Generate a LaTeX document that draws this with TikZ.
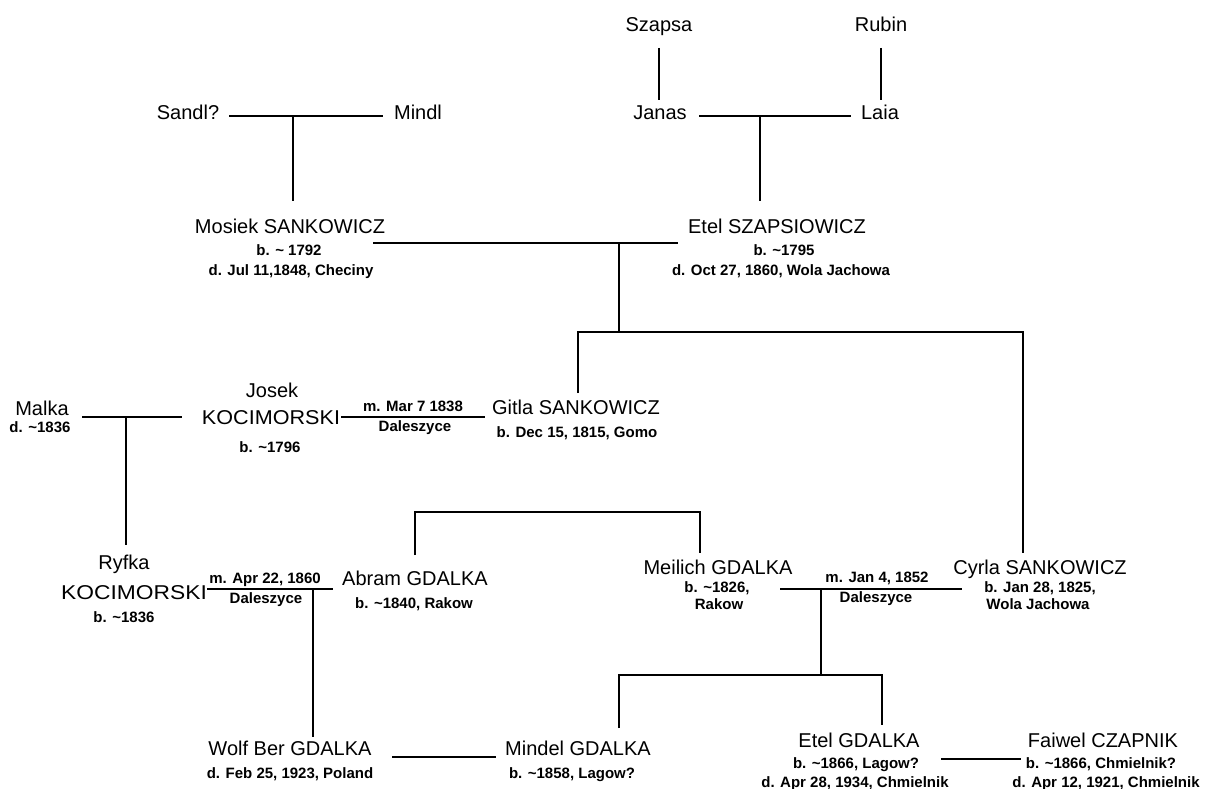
\documentclass[tikz,border=0pt]{standalone}
\usepackage{fontspec}
\setmainfont{Liberation Sans}
\begin{document}
\begin{tikzpicture}[x=1pt,y=-1pt,
  pname/.style={anchor=base,inner sep=0pt,font=\fontsize{20}{24}\selectfont},
  pinfo/.style={anchor=base,inner sep=0pt,font=\fontsize{15}{18}\selectfont\bfseries},
  link/.style={line width=1.8pt,line cap=butt}]
\fill[white] (0,0) rectangle (1215,789);
\useasboundingbox (0,0) rectangle (1215,789);
% ---------- names ----------
\node[pname] (szapsa) at (659,32) {Szapsa};
\node[pname] (rubin) at (881,32) {Rubin};
\node[pname] (sandl) at (188,120) {Sandl?};
\node[pname] (mindl) at (418,120) {Mindl};
\node[pname] (janas) at (660,120) {Janas};
\node[pname] (laia) at (880,120) {Laia};
\node[pname] (mosiek) at (290,233) {Mosiek SANKOWICZ};
\node[pname] (etelS) at (777,233) {Etel SZAPSIOWICZ};
\node[pname] (malka) at (42,415) {Malka};
\node[pname] (josek) at (272,397) {Josek};
\node[pname] (josekK) at (271,424) {\scalebox{1.08}[1]{KOCIMORSKI}};
\node[pname] (gitla) at (576,414) {Gitla SANKOWICZ};
\node[pname] (ryfka) at (124,569) {Ryfka};
\node[pname] (ryfkaK) at (134,599) {\scalebox{1.14}[1]{KOCIMORSKI}};
\node[pname] (abram) at (415,585) {Abram GDALKA};
\node[pname] (meilich) at (718,574) {Meilich GDALKA};
\node[pname] (cyrla) at (1040,574) {Cyrla SANKOWICZ};
\node[pname] (wolf) at (290,755) {Wolf Ber GDALKA};
\node[pname] (mindel) at (578,755) {Mindel GDALKA};
\node[pname] (etelG) at (859,747) {Etel GDALKA};
\node[pname] (faiwel) at (1103,747) {Faiwel CZAPNIK};
% ---------- details ----------
\node[pinfo] (mosiekb) at (289,255) {b. \textasciitilde{} 1792};
\node[pinfo] (mosiekd) at (291,275) {d. Jul 11,1848, Checiny};
\node[pinfo] (etelSb) at (784,255) {b. \textasciitilde1795};
\node[pinfo] (etelSd) at (781,275) {d. Oct 27, 1860, Wola Jachowa};
\node[pinfo] (malkad) at (40,432) {d. \textasciitilde1836};
\node[pinfo] (josekb) at (270,452) {b. \textasciitilde1796};
\node[pinfo] (m1a) at (413,411) {m. Mar 7 1838};
\node[pinfo] (m1b) at (415,431) {Daleszyce};
\node[pinfo] (gitlab) at (577,437) {b. Dec 15, 1815, Gomo};
\node[pinfo] (ryfkab) at (124,622) {b. \textasciitilde1836};
\node[pinfo] (m2a) at (265,583) {m. Apr 22, 1860};
\node[pinfo] (m2b) at (266,603) {Daleszyce};
\node[pinfo] (abramb) at (414,608) {b. \textasciitilde1840, Rakow};
\node[pinfo] (meilichb) at (717,592) {b. \textasciitilde1826,};
\node[pinfo] (meilichp) at (719,609) {Rakow};
\node[pinfo] (m3a) at (877,582) {m. Jan 4, 1852};
\node[pinfo] (m3b) at (876,602) {Daleszyce};
\node[pinfo] (cyrlab) at (1040,592) {b. Jan 28, 1825,};
\node[pinfo] (cyrlap) at (1038,609) {Wola Jachowa};
\node[pinfo] (wolfd) at (290,778) {d. Feb 25, 1923, Poland};
\node[pinfo] (mindelb) at (572,778) {b. \textasciitilde1858, Lagow?};
\node[pinfo] (etelGb) at (856,768) {b. \textasciitilde1866, Lagow?};
\node[pinfo] (etelGd) at (855,787) {d. Apr 28, 1934, Chmielnik};
\node[pinfo] (faiwelb) at (1101,768) {b. \textasciitilde1866, Chmielnik?};
\node[pinfo] (faiweld) at (1106,787) {d. Apr 12, 1921, Chmielnik};
% ---------- line end points ----------
\coordinate (sz1) at (659,48);  \coordinate (sz2) at (659,100);
\coordinate (ru1) at (881,48);  \coordinate (ru2) at (881,100);
\coordinate (sm1) at (229,116); \coordinate (sm2) at (383,116);
\coordinate (sm3) at (293,116); \coordinate (sm4) at (293,201);
\coordinate (jl1) at (699,116); \coordinate (jl2) at (851,116);
\coordinate (jl3) at (760,116); \coordinate (jl4) at (760,201);
\coordinate (me1) at (373,243); \coordinate (me2) at (678,243);
\coordinate (me3) at (619,243); \coordinate (me4) at (619,332);
\coordinate (ch1) at (578,332); \coordinate (ch2) at (1023,332);
\coordinate (ch3) at (578,393); \coordinate (ch4) at (1023,553);
\coordinate (mk1) at (82,417);  \coordinate (mk2) at (182,417);
\coordinate (mk3) at (126,417); \coordinate (mk4) at (126,545);
\coordinate (jg1) at (341,417); \coordinate (jg2) at (485,417);
\coordinate (ab1) at (415,512); \coordinate (ab2) at (700,512);
\coordinate (ab3) at (415,555); \coordinate (ab4) at (700,553);
\coordinate (ra1) at (207,589); \coordinate (ra2) at (333,589);
\coordinate (ra3) at (313,589); \coordinate (ra4) at (313,737);
\coordinate (mc1) at (780,589); \coordinate (mc2) at (962,589);
\coordinate (mc3) at (821,589); \coordinate (mc4) at (821,675);
\coordinate (gc1) at (619,675); \coordinate (gc2) at (882,675);
\coordinate (gc3) at (619,728); \coordinate (gc4) at (882,725);
\coordinate (wm1) at (392,757); \coordinate (wm2) at (496,757);
\coordinate (ef1) at (941,759); \coordinate (ef2) at (1021,759);
% ---------- connectors ----------
\draw[link] (sz1) -- (sz2);
\draw[link] (ru1) -- (ru2);
\draw[link] (sm1) -- (sm2);
\draw[link] (sm3) -- (sm4);
\draw[link] (jl1) -- (jl2);
\draw[link] (jl3) -- (jl4);
\draw[link] (me1) -- (me2);
\draw[link] (me3) -- (me4);
\draw[link] (ch3) -- (ch1) -- (ch2) -- (ch4);
\draw[link] (mk1) -- (mk2);
\draw[link] (mk3) -- (mk4);
\draw[link] (jg1) -- (jg2);
\draw[link] (ab3) -- (ab1) -- (ab2) -- (ab4);
\draw[link] (ra1) -- (ra2);
\draw[link] (ra3) -- (ra4);
\draw[link] (mc1) -- (mc2);
\draw[link] (mc3) -- (mc4);
\draw[link] (gc3) -- (gc1) -- (gc2) -- (gc4);
\draw[link] (wm1) -- (wm2);
\draw[link] (ef1) -- (ef2);
\end{tikzpicture}
\end{document}
